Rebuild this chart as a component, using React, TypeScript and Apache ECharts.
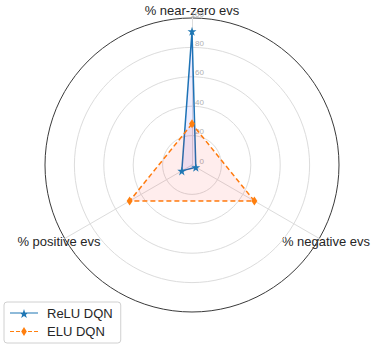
import React, { useEffect, useRef } from "react";
import * as echarts from "echarts";

const axisNames = ["% near-zero evs", "% positive evs", "% negative evs"];
const reluValues = [91, 8, 3];
const eluValues = [28, 49, 49];
const seriesNames = ["ReLU DQN", "ELU DQN"];
const radialMax = 100;
const radialStep = 20;

const STAR = "path://M50,0 L61,35 L98,35 L68,57 L79,91 L50,70 L21,91 L32,57 L2,35 L39,35 Z";
const STAR_LEGEND =
  "path://M0,4.5 H28 V5.5 H0 Z M14,1 L15.1,4.5 L18.8,4.5 L15.8,6.7 L16.9,10 L14,8 L11.1,10 L12.2,6.7 L9.2,4.5 L12.9,4.5 Z";
const DIAMOND_LEGEND =
  "path://M0,4.4 H4 V5.6 H0 Z M6,4.4 H10 V5.6 H6 Z M18,4.4 H22 V5.6 H18 Z M24,4.4 H28 V5.6 H24 Z M14,0.5 L16.8,5 L14,9.5 L11.2,5 Z M14,0 L14,10";
const FONT = "'Liberation Sans', Arial, sans-serif";

export default function App() {
  const ref = useRef<HTMLDivElement>(null);
  useEffect(() => {
    if (!ref.current) return;
    const chart = echarts.init(ref.current, null, { renderer: "svg" });
    const cx = 192, cy = 165, R = 147;
    const ringColors = ["#dcdcdc", "#dcdcdc", "#dcdcdc", "#dcdcdc", "#dcdcdc", "#3a3a3a"];
    chart.setOption({
      animation: false,
      backgroundColor: "#ffffff",
      textStyle: { fontFamily: FONT },
      radar: {
        center: [cx, cy],
        radius: R,
        startAngle: 90,
        shape: "circle",
        splitNumber: radialMax / radialStep,
        indicator: axisNames.map((n) => ({ name: n, min: 0, max: radialMax })),
        axisName: { show: false },
        axisLine: { lineStyle: { color: "#dcdcdc", width: 1 } },
        splitLine: { lineStyle: { color: ringColors, width: 1 } },
        splitArea: { show: false },
        axisTick: { show: false },
        axisLabel: { show: false },
      },
      polar: { center: [cx, cy], radius: R },
      angleAxis: { type: "value", show: false, min: 0, max: 360, startAngle: 90 },
      radiusAxis: {
        type: "value",
        min: 0,
        max: radialMax,
        interval: radialStep,
        axisLine: { show: false },
        axisTick: { show: false },
        splitLine: { show: false },
        axisLabel: {
          color: "#b0b0b0",
          fontSize: 8,
          fontFamily: FONT,
          margin: -12,
          verticalAlign: "bottom",
        },
      },
      legend: {
        left: 4,
        bottom: 4,
        orient: "vertical",
        itemWidth: 28,
        itemHeight: 10,
        itemGap: 5,
        padding: [5, 8, 5, 6],
        borderColor: "#d0d0d0",
        borderWidth: 1,
        borderRadius: 3,
        textStyle: { fontSize: 13, color: "#262626", fontFamily: FONT, padding: [0, 0, 0, 4] },
        data: [
          { name: seriesNames[0], icon: STAR_LEGEND },
          { name: seriesNames[1], icon: DIAMOND_LEGEND },
        ],
      },
      graphic: [
        { type: "text", x: cx, y: 10, style: { text: axisNames[0], fill: "#262626", font: `13px ${FONT}`, align: "center", verticalAlign: "middle" } },
        { type: "text", x: 59, y: 241, style: { text: axisNames[1], fill: "#262626", font: `13px ${FONT}`, align: "center", verticalAlign: "middle" } },
        { type: "text", x: 326, y: 241, style: { text: axisNames[2], fill: "#262626", font: `13px ${FONT}`, align: "center", verticalAlign: "middle" } },
      ],
      series: [
        {
          type: "radar",
          name: seriesNames[0],
          symbol: STAR,
          symbolSize: 9,
          lineStyle: { color: "#1f77b4", width: 1.5 },
          itemStyle: { color: "#1f77b4" },
          areaStyle: { color: "rgba(0,0,255,0.1)" },
          data: [{ value: reluValues, name: seriesNames[0] }],
        },
        {
          type: "radar",
          name: seriesNames[1],
          symbol: "diamond",
          symbolSize: [6, 9],
          lineStyle: { color: "#ff7f0e", width: 1.5, type: [5, 3] },
          itemStyle: { color: "#ff7f0e" },
          areaStyle: { color: "rgba(255,0,0,0.1)" },
          data: [{ value: eluValues, name: seriesNames[1] }],
        },
      ],
    });
    return () => chart.dispose();
  }, []);
  return <div ref={ref} style={{ position: "absolute", left: 0, top: 0, width: 374, height: 347 }} />;
}
